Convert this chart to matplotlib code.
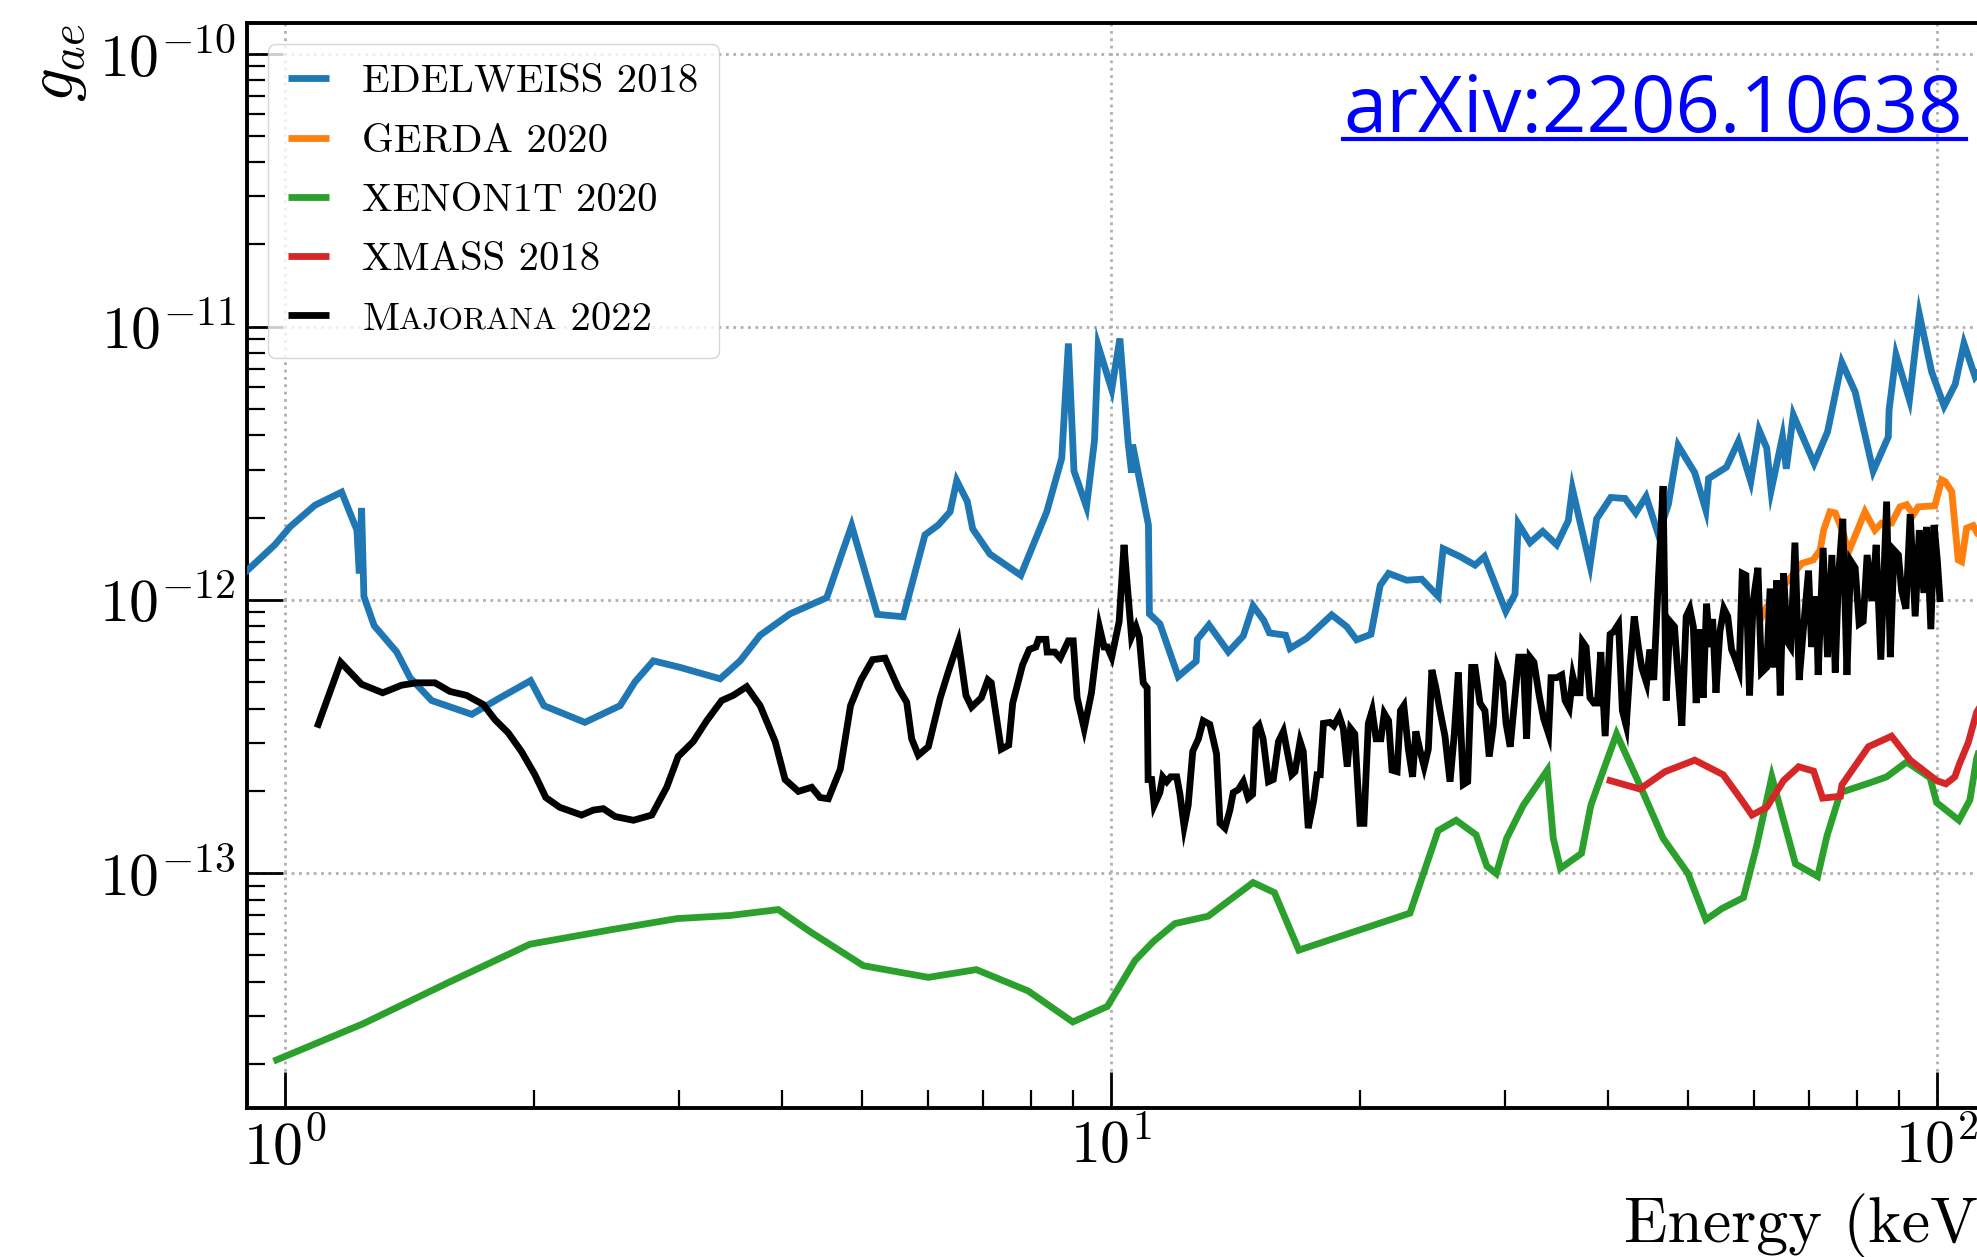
import numpy as np
import matplotlib
matplotlib.use("Agg")
import matplotlib.pyplot as plt
from matplotlib.offsetbox import TextArea, HPacker
from matplotlib.lines import Line2D
from matplotlib.ticker import NullFormatter

plt.rcParams.update({
    "font.family": "serif",
    "font.serif": ["cmr10"],
    "mathtext.fontset": "cm",
    "axes.formatter.use_mathtext": True,
    "axes.unicode_minus": False,
})

# couplings below are given in units of 1e-12
GAE_UNIT = 1e-12

edelweiss_energy = [
    0.80, 0.972, 1.014, 1.087, 1.171, 1.222, 1.230, 1.238, 1.246, 1.282,
    1.365, 1.417, 1.505, 1.683, 1.821, 1.983, 2.058, 2.307, 2.545, 2.653,
    2.792, 3.008, 3.363, 3.556, 3.760, 4.088, 4.527, 4.720, 4.853, 5.213,
    5.604, 5.954, 6.18, 6.385, 6.505, 6.70, 6.80, 7.137, 7.776, 8.36,
    8.717, 8.88, 9.02, 9.34, 9.55, 9.65, 10.02, 10.25, 10.49, 10.59,
    10.62, 11.10, 11.13, 11.46, 12.06, 12.68, 12.72, 13.14, 13.87, 14.46,
    14.86, 15.31, 15.55, 16.27, 16.47, 17.25, 18.50, 19.29, 19.83, 20.64,
    21.18, 21.68, 22.80, 23.78, 24.89, 25.24, 26.46, 27.59, 28.32, 29.32,
    30.06, 30.84, 31.12, 32.16, 33.32, 34.64, 35.78, 36.19, 38.01, 38.72,
    40.28, 41.92, 43.18, 44.44, 46.0, 47.3, 48.6, 50.9, 52.5, 52.9,
    55.6, 57.5, 59.5, 60.9, 62.2, 62.97, 65.0, 65.7, 67.0, 71.0,
    73.7, 76.7, 79.6, 83.7, 87.3, 87.5, 89.2, 92.6, 95.2, 98.5,
    102.0, 105.2, 107.8, 111.2, 117.6,
]
edelweiss_gae = [
    0.92, 1.59, 1.85, 2.22, 2.48, 1.80, 1.25, 2.17, 1.03, 0.805,
    0.645, 0.519, 0.428, 0.381, 0.438, 0.506, 0.410, 0.356, 0.410, 0.501,
    0.598, 0.566, 0.514, 0.598, 0.742, 0.889, 1.018, 1.47, 1.87, 0.885,
    0.867, 1.73, 1.88, 2.10, 2.73, 2.29, 1.82, 1.47, 1.23, 2.10,
    3.30, 8.68, 2.96, 2.19, 3.83, 8.50, 5.89, 9.05, 3.75, 2.92,
    3.70, 1.88, 0.889, 0.817, 0.524, 0.596, 0.717, 0.810, 0.645, 0.738,
    0.951, 0.841, 0.757, 0.742, 0.664, 0.723, 0.881, 0.798, 0.714, 0.748,
    1.13, 1.25, 1.18, 1.19, 1.03, 1.54, 1.44, 1.34, 1.44, 1.10,
    0.908, 1.05, 1.90, 1.62, 1.78, 1.59, 1.95, 2.55, 1.34, 1.98,
    2.37, 2.35, 2.08, 2.39, 1.73, 2.24, 3.67, 2.92, 2.13, 2.78,
    3.06, 3.81, 2.71, 4.18, 3.60, 2.51, 3.95, 3.02, 4.75, 3.16,
    4.12, 7.40, 5.77, 2.96, 3.95, 4.96, 7.89, 5.40, 11.1, 6.85,
    5.12, 6.15, 8.68, 6.56, 8.2,
]

gerda_energy = [
    61.4, 62.2, 68.6, 70.8, 72.2, 72.9, 74.2, 75.3, 77.0, 78.1,
    81.8, 84.1, 85.7, 88.1, 90.2, 91.9, 93.6, 94.9, 99.4, 101.3,
    102.3, 104.2, 106.1, 107.1, 108.6, 110.6, 111.9, 117.6,
]
gerda_gae = [
    0.867, 0.943, 1.36, 1.40, 1.52, 1.80, 2.10, 2.08, 1.76, 1.49,
    2.10, 1.80, 1.91, 1.91, 2.19, 2.23, 2.05, 2.19, 2.21, 2.75,
    2.71, 2.49, 1.40, 1.38, 1.83, 1.87, 1.75, 1.6,
]

xenon_energy = [
    0.977, 1.244, 1.584, 1.980, 2.474, 2.981, 3.457, 3.955, 4.322, 5.013,
    6.01, 6.87, 7.94, 8.99, 9.90, 10.69, 11.25, 11.95, 13.11, 14.86,
    15.77, 16.88, 23.01, 24.89, 26.17, 27.67, 28.51, 29.27, 30.13, 31.56,
    33.75, 34.31, 35.0, 37.12, 38.10, 39.4, 40.93, 43.7, 46.6, 49.96,
    52.5, 54.9, 58.3, 60.5, 63.1, 67.4, 71.7, 73.6, 76.4, 83.7,
    86.9, 91.9, 98.1, 99.9, 106.3, 109.6, 111.7, 117.6,
]
xenon_gae = [
    0.0207, 0.0281, 0.0400, 0.0549, 0.0619, 0.0681, 0.0699, 0.0735, 0.0610, 0.0458,
    0.0415, 0.0443, 0.0370, 0.0285, 0.0325, 0.0478, 0.0561, 0.0653, 0.0695, 0.0923,
    0.0848, 0.0522, 0.0713, 0.143, 0.156, 0.138, 0.106, 0.0995, 0.134, 0.177,
    0.238, 0.134, 0.104, 0.118, 0.177, 0.235, 0.323, 0.209, 0.134, 0.0995,
    0.0675, 0.0741, 0.0813, 0.126, 0.225, 0.108, 0.0972, 0.137, 0.197, 0.216,
    0.225, 0.255, 0.223, 0.181, 0.156, 0.185, 0.263, 0.43,
]

xmass_energy = [
    40.2, 43.7, 46.85, 50.9, 55.1, 58.0, 59.7, 62.2, 65.2, 68.0,
    70.9, 72.7, 76.4, 76.7, 82.6, 88.1, 92.8, 99.9, 102.5, 105.1,
    106.4, 109.1, 111.7, 120.0,
]
xmass_gae = [
    0.218, 0.203, 0.235, 0.259, 0.229, 0.185, 0.163, 0.174, 0.218, 0.245,
    0.236, 0.188, 0.191, 0.210, 0.290, 0.317, 0.259, 0.218, 0.212, 0.225,
    0.250, 0.300, 0.388, 0.55,
]

majorana_energy = [
    1.097, 1.168, 1.238, 1.313, 1.384, 1.443, 1.519, 1.584, 1.659, 1.738,
    1.796, 1.863, 1.934, 2.007, 2.069, 2.151, 2.286, 2.362, 2.429, 2.510,
    2.641, 2.780, 2.898, 2.992, 3.121, 3.240, 3.378, 3.489, 3.622, 3.760,
    3.921, 4.031, 4.183, 4.341, 4.444, 4.548, 4.702, 4.838, 4.981, 5.144,
    5.326, 5.527, 5.658, 5.737, 5.844, 6.010, 6.213, 6.356, 6.534, 6.674,
    6.780, 6.967, 7.095, 7.162, 7.363, 7.519, 7.603, 7.815, 7.962, 8.11,
    8.17, 8.34, 8.37, 8.55, 8.68, 8.88, 9.00, 9.10, 9.28, 9.47,
    9.68, 9.81, 9.90, 10.02, 10.23, 10.37, 10.44, 10.59, 10.72, 10.82,
    10.94, 11.06, 11.09, 11.20, 11.28, 11.46, 11.55, 11.68, 11.81, 12.01,
    12.12, 12.26, 12.40, 12.56, 12.76, 12.93, 13.17, 13.42, 13.55, 13.74,
    13.93, 14.06, 14.26, 14.46, 14.66, 14.84, 14.98, 15.11, 15.28, 15.51,
    15.72, 15.95, 16.17, 16.55, 16.70, 16.94, 17.09, 17.33, 17.60, 17.76,
    17.92, 18.08, 18.41, 18.61, 18.89, 19.11, 19.32, 19.50, 19.73, 20.02,
    20.24, 20.49, 20.71, 20.94, 21.22, 21.42, 21.68, 21.89, 22.20, 22.41,
    22.62, 22.91, 23.18, 23.39, 23.68, 23.94, 24.22, 24.46, 24.74, 25.02,
    25.37, 25.73, 26.04, 26.33, 26.70, 27.03, 27.33, 27.59, 27.97, 28.36,
    28.70, 29.03, 29.36, 29.81, 30.08, 30.43, 30.78, 31.16, 31.55, 31.85,
    32.15, 32.51, 32.99, 33.4, 33.87, 34.1, 34.64, 35.13, 35.46, 35.87,
    36.23, 36.62, 36.96, 37.22, 37.60, 38.01, 38.43, 38.80, 39.17, 39.65,
    40.2, 40.6, 41.16, 41.6, 42.05, 42.5, 43.0, 43.5, 43.9, 44.5,
    44.9, 45.4, 46.0, 46.6, 47.0, 47.5, 48.1, 48.5, 49.1, 49.7,
    50.2, 50.7, 51.1, 51.6, 52.1, 52.6, 53.1, 53.5, 54.0, 54.6,
    55.2, 55.8, 56.4, 56.9, 57.6, 58.1, 58.7, 59.3, 59.9, 60.7,
    61.3, 62.2, 62.8, 63.4, 64.0, 64.6, 65.2, 65.9, 66.5, 67.3,
    68.1, 68.9, 69.9, 70.5, 71.4, 71.8, 72.8, 73.7, 74.6, 75.3,
    76.0, 76.9, 77.8, 78.6, 79.6, 80.5, 81.4, 82.3, 83.4, 84.4,
    85.5, 86.9, 87.8, 88.7, 89.8, 90.6, 91.7, 92.8, 94.1, 95.2,
    96.4, 97.2, 98.3, 99.2, 100.1, 100.8,
]
majorana_gae = [
    0.350, 0.591, 0.491, 0.457, 0.487, 0.497, 0.497, 0.462, 0.447, 0.414,
    0.364, 0.326, 0.278, 0.229, 0.189, 0.174, 0.163, 0.170, 0.172, 0.161,
    0.156, 0.163, 0.206, 0.267, 0.303, 0.361, 0.428, 0.447, 0.481, 0.410,
    0.303, 0.220, 0.199, 0.206, 0.189, 0.187, 0.240, 0.410, 0.509, 0.604,
    0.612, 0.476, 0.422, 0.310, 0.270, 0.290, 0.438, 0.547, 0.702, 0.447,
    0.405, 0.438, 0.509, 0.497, 0.284, 0.294, 0.419, 0.578, 0.658, 0.672,
    0.717, 0.717, 0.644, 0.644, 0.612, 0.708, 0.708, 0.438, 0.338, 0.457,
    0.798, 0.672, 0.672, 0.617, 0.834, 1.59, 1.23, 0.732, 0.798, 0.732,
    0.497, 0.476, 0.220, 0.220, 0.177, 0.197, 0.225, 0.216, 0.225, 0.225,
    0.194, 0.148, 0.177, 0.279, 0.310, 0.361, 0.350, 0.273, 0.152, 0.146,
    0.170, 0.197, 0.202, 0.216, 0.188, 0.194, 0.338, 0.348, 0.310, 0.216,
    0.220, 0.303, 0.330, 0.229, 0.235, 0.303, 0.279, 0.146, 0.185, 0.229,
    0.229, 0.353, 0.356, 0.346, 0.376, 0.338, 0.245, 0.338, 0.323, 0.152,
    0.152, 0.353, 0.393, 0.310, 0.310, 0.384, 0.361, 0.238, 0.235, 0.393,
    0.410, 0.284, 0.225, 0.330, 0.279, 0.245, 0.284, 0.554, 0.476, 0.393,
    0.317, 0.216, 0.323, 0.542, 0.211, 0.216, 0.566, 0.566, 0.419, 0.393,
    0.267, 0.346, 0.566, 0.497, 0.353, 0.290, 0.419, 0.617, 0.617, 0.310,
    0.617, 0.591, 0.447, 0.368, 0.323, 0.519, 0.519, 0.531, 0.428, 0.401,
    0.524, 0.457, 0.457, 0.702, 0.672, 0.438, 0.419, 0.419, 0.644, 0.317,
    0.748, 0.765, 0.816, 0.393, 0.346, 0.566, 0.870, 0.672, 0.566, 0.497,
    0.658, 0.509, 1.20, 2.61, 0.428, 0.834, 0.798, 0.566, 0.346, 0.870,
    0.928, 0.798, 0.419, 0.781, 0.438, 0.968, 0.672, 0.851, 0.457, 0.765,
    0.928, 0.870, 0.658, 0.617, 0.554, 1.25, 1.23, 0.447, 0.990, 1.31,
    0.542, 0.566, 1.10, 0.566, 1.18, 0.447, 1.25, 0.702, 0.672, 1.62,
    0.509, 0.781, 1.28, 0.672, 1.03, 0.531, 1.55, 0.617, 1.46, 0.542,
    1.23, 1.98, 0.531, 1.39, 1.31, 0.816, 0.834, 1.46, 0.990, 1.59,
    0.604, 2.29, 0.617, 1.52, 1.46, 1.08, 0.928, 2.06, 0.870, 1.80,
    1.06, 1.85, 0.781, 1.88, 1.39, 1.01,
]

series = [
    ("EDELWEISS 2018", edelweiss_energy, edelweiss_gae, "C0"),
    ("GERDA 2020", gerda_energy, gerda_gae, "C1"),
    ("XENON1T 2020", xenon_energy, xenon_gae, "C2"),
    ("XMASS 2018", xmass_energy, xmass_gae, "C3"),
    ("Majorana 2022", majorana_energy, majorana_gae, "black"),
]

x_limits = (0.9, 120)
y_limits = (1.38e-14, 1.29e-10)
LINE_W = 4.9

fig = plt.figure(figsize=(19.77, 12.57), dpi=100)
ax = fig.add_axes([0.12504, 0.11854, 0.88781, 0.86293])

for label, energy, gae, color in series:
    ax.plot(energy, np.asarray(gae) * GAE_UNIT, color=color, lw=LINE_W,
            label=label, solid_joinstyle="miter", zorder=3)

ax.set_xscale("log")
ax.set_yscale("log")
ax.set_xlim(*x_limits)
ax.set_ylim(*y_limits)
ax.xaxis.set_minor_formatter(NullFormatter())
ax.yaxis.set_minor_formatter(NullFormatter())

ax.grid(True, which="major", linestyle=":", color="#b0b0b0", linewidth=2.0, zorder=0)
for side in ax.spines.values():
    side.set_linewidth(2.8)
ax.tick_params(which="both", direction="in", top=False, right=False)
ax.tick_params(which="major", length=26, width=2.0, labelsize=43, pad=8)
ax.tick_params(which="minor", length=13, width=1.6)

ax.set_xlabel("Energy (keV)", loc="right", fontsize=46, labelpad=12)
ax.set_ylabel(r"$g_{ae}$", loc="top", fontsize=48, labelpad=7)

leg = ax.legend(loc="upper left", fontsize=29.3, handlelength=1.0,
                handletextpad=0.83, borderpad=0.5, labelspacing=0.56,
                fancybox=True, framealpha=0.8)
for line in leg.get_lines():
    line.set_linewidth(LINE_W)
    line.set_solid_capstyle("butt")

# Majorana is typeset in small capitals
for column in leg._legend_handle_box.get_children():
    for row in column.get_children():
        kids = row.get_children()
        text_box = kids[1]
        if isinstance(text_box, TextArea) and text_box.get_text() == "Majorana 2022":
            fs = text_box._text.get_fontsize()
            small_caps = HPacker(
                children=[
                    TextArea("M", textprops=dict(fontsize=fs)),
                    TextArea("AJORANA", textprops=dict(fontsize=fs * 0.77)),
                    TextArea(" 2022", textprops=dict(fontsize=fs)),
                ],
                align="baseline", pad=0, sep=0)
            small_caps.set_figure(fig)
            row._children[1] = small_caps

# underlined link in the upper right corner
link_x, link_y = 0.99292, 0.89523
link = fig.text(link_x, link_y, "arXiv:2206.10638", ha="right", va="baseline",
                color="blue", fontsize=56, family="Open Sans")
fig.canvas.draw()
bb = link.get_window_extent()
baseline_px = fig.transFigure.transform((link_x, link_y))[1]
fig.add_artist(Line2D([bb.x0, bb.x1 + 3], [baseline_px - 7, baseline_px - 7],
                      transform=None, color="blue", lw=3))

fig.savefig("out.png", dpi=100)
